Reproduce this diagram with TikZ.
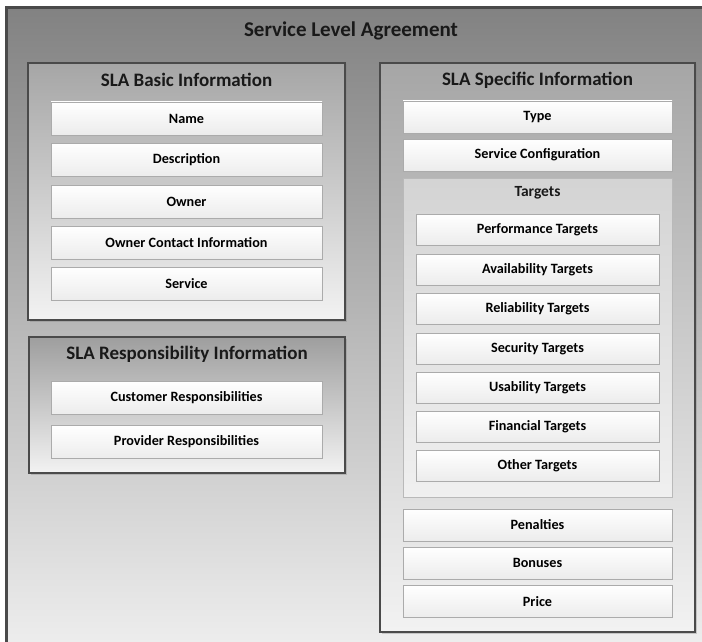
\documentclass[tikz,border=0pt]{standalone}
\usepackage{fontspec}
\setmainfont{Carlito}
\usetikzlibrary{positioning,shadows}
\definecolor{frameline}{HTML}{4A4A4A}
\definecolor{itemline}{HTML}{ABABAB}
\tikzset{
  group/.style={rectangle, draw=frameline, line width=1.6pt, top color=#1, bottom color=gray!10,
    drop shadow={shadow xshift=1.5pt, shadow yshift=-1.5pt, opacity=0.35}, inner sep=0pt},
  group/.default=gray!70,
  item/.style={rectangle, draw=itemline, line width=0.8pt, top color=white, bottom color=gray!15,
    minimum width=#1, minimum height=33pt, inner sep=0pt, font=\fontsize{14.2}{16}\selectfont\bfseries},
  item/.default=271pt,
  heading/.style={font=\fontsize{19}{22}\selectfont\bfseries, text=black!90}
}
\begin{document}
\begin{tikzpicture}[x=1pt,y=-1pt]
\useasboundingbox (0,0) rectangle (702,642);
\clip (0,0) rectangle (702,642);

% Outer frame
\node[rectangle, draw=frameline, line width=3pt, top color=gray!98, bottom color=gray!12,
  minimum width=710pt, minimum height=650pt, inner sep=0pt] (sla) at (361,333) {};
\node[font=\fontsize{21}{24}\selectfont\bfseries, text=black!90] (slatitle) at (351,31) {Service Level Agreement};

% Basic information
\node[group=gray!70, minimum width=317pt, minimum height=257pt] (basic) at (186.5,191.5) {};
\node[heading] (basictitle) at (186.5,80) {SLA Basic Information};
\node[item] (name) at (186.5,118.5) {Name};
\node[item] (descr) at (186.5,160) {Description};
\node[item] (owner) at (186.5,201.5) {Owner};
\node[item] (contact) at (186.5,242.5) {Owner Contact Information};
\node[item] (service) at (186.5,283.5) {Service};

% Responsibility information
\node[group=gray!76, minimum width=316pt, minimum height=136pt] (resp) at (187,405) {};
\node[heading] (resptitle) at (187,354) {SLA Responsibility Information};
\node[item] (customer) at (186.5,398) {Customer Responsibilities};
\node[item] (provider) at (186.5,442) {Provider Responsibilities};

% Specific information
\node[group=gray!70, minimum width=315pt, minimum height=569pt] (specific) at (537.5,347.5) {};
\node[heading] (specifictitle) at (537.5,80) {SLA Specific Information};
\node[item=269pt, minimum height=32pt] (type) at (537.5,117) {Type};
\node[item=269pt, minimum height=32pt] (config) at (537.5,155) {Service Configuration};

% Targets
\node[rectangle, draw=gray!55, line width=0.8pt, top color=gray!34, bottom color=gray!12,
  minimum width=269pt, minimum height=319pt, inner sep=0pt] (targets) at (537.5,337.5) {};
\node[font=\fontsize{15.5}{18}\selectfont\bfseries, text=black!90] (targetstitle) at (537.5,193) {Targets};
\node[item=243pt, minimum height=31pt] (perf) at (537.5,229.5) {Performance Targets};
\node[item=243pt, minimum height=31pt] (avail) at (537.5,269.5) {Availability Targets};
\node[item=243pt, minimum height=31pt] (reliab) at (537.5,308.5) {Reliability Targets};
\node[item=243pt, minimum height=31pt] (secur) at (537.5,348.5) {Security Targets};
\node[item=243pt, minimum height=31pt] (usab) at (537.5,387.5) {Usability Targets};
\node[item=243pt, minimum height=31pt] (finan) at (537.5,426.5) {Financial Targets};
\node[item=243pt, minimum height=31pt] (other) at (537.5,465.5) {Other Targets};

% Remaining items
\node[item=269pt, minimum height=32pt] (penalties) at (537.5,525) {Penalties};
\node[item=269pt, minimum height=32pt] (bonuses) at (537.5,563) {Bonuses};
\node[item=269pt, minimum height=32pt] (price) at (537.5,601.5) {Price};

\end{tikzpicture}
\end{document}
